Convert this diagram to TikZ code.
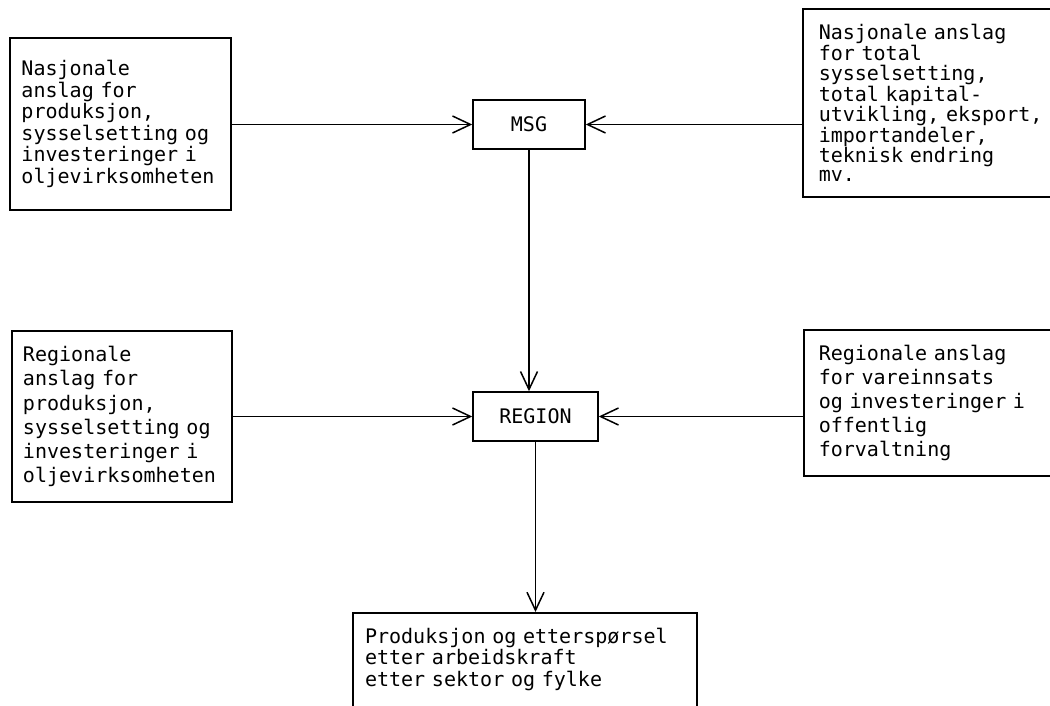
\documentclass[tikz,border=0pt]{standalone}
\usepackage{fontspec}
\newfontfamily\skrift{DejaVu Sans Mono}
\usetikzlibrary{arrows.meta}
\tikzset{
  boks/.style={draw, line width=0.030cm, rectangle, align=left,
    inner xsep=0.30cm, inner ysep=0.30cm,
    font=\skrift\fontsize{11.4}{#1}\selectfont},
  boks/.default=12.2,
  pil/.style={line width=0.030cm, -{Straight Barb[length=0.36cm, width=0.34cm]}},
  linje/.style={line width=0.030cm}
}
\begin{document}
\begin{tikzpicture}
                        \clip (0,0) rectangle (21.000000,14.100000);

                        % Drawing box MSG
                        \node [boks, minimum width=2.24cm, minimum height=0.98cm] (msg) at (10.580000,11.610000) {MSG};%

                        % Drawing box REGION
                        \node [boks, minimum width=2.50cm, minimum height=0.98cm] (region) at (10.710000,5.770000) {REGION};%

                        % Drawing box nasjonale anslag (left)
                        \node [boks=12.2, text width=3.96cm, inner xsep=0.23cm, minimum height=3.44cm] (nasjv) at (2.410000,11.620000)
                          {Nasjonale\\anslag for\\produksjon,\\sysselsetting og\\investeringer i\\oljevirksomheten};%

                        % Drawing box nasjonale anslag (right)
                        \node [boks=11.1, anchor=west, text width=5.00cm, inner xsep=0.32cm, minimum height=3.60cm] (nasjh) at (16.040000,12.040000)
                          {Nasjonale anslag\\for total\\sysselsetting,\\total kapital-\\utvikling, eksport,\\importandeler,\\teknisk endring\\mv.};%

                        % Drawing box regionale anslag (left)
                        \node [boks=13.7, text width=3.96cm, inner xsep=0.22cm, minimum height=3.42cm] (regv) at (2.440000,5.770000)
                          {Regionale\\anslag for\\produksjon,\\sysselsetting og\\investeringer i\\oljevirksomheten};%

                        % Drawing box regionale anslag (right)
                        \node [boks=13.7, anchor=west, text width=5.00cm, inner xsep=0.30cm, minimum height=2.92cm] (regh) at (16.060000,6.040000)
                          {Regionale anslag\\for vareinnsats\\og investeringer i\\offentlig\\forvaltning};%

                        % Drawing box produksjon (bottom)
                        \node [boks=12.3, anchor=north, text width=6.40cm, inner xsep=0.24cm, text depth=1.50cm] (prod) at (10.500000,1.860000)
                          {Produksjon og etterspørsel\\etter arbeidskraft\\etter sektor og fylke};%

                        % Drawing arrows into MSG
                        \draw [pil] (nasjv.east |- msg.west) -- (msg.west);%
                        \draw [pil] (msg.east -| nasjh.west) -- (msg.east);%

                        % Drawing line MSG REGION
                        \draw [pil] (msg.south) -- (msg.south |- region.north);%

                        % Drawing arrows into REGION
                        \draw [pil] (regv.east |- region.west) -- (region.west);%
                        \draw [pil] (region.east -| regh.west) -- (region.east);%

                        % Drawing line REGION produksjon
                        \draw [pil] (region.south) -- (region.south |- prod.north);%
\end{tikzpicture}
\end{document}
